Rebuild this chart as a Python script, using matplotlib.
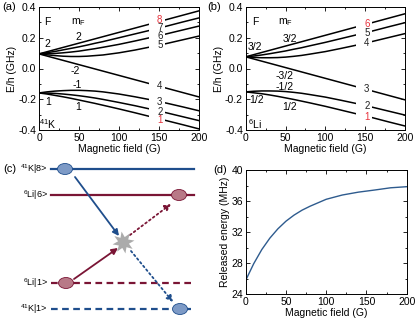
import numpy as np
import matplotlib
matplotlib.use('Agg')
import matplotlib.pyplot as plt
from matplotlib.patches import Ellipse, Rectangle
from matplotlib.ticker import MultipleLocator

plt.rcParams['font.family'] = ['Liberation Sans', 'DejaVu Sans']
plt.rcParams['font.size'] = 7.5
plt.rcParams['mathtext.default'] = 'regular'
plt.rcParams['axes.unicode_minus'] = False

# magnetic field samples (G)
field = [0, 10, 20, 30, 40, 50, 60, 70, 80, 100, 120, 140, 160, 180, 200]

# 41K hyperfine levels (GHz), states 1..8
k_levels = [
    [-0.159, -0.166, -0.175, -0.184, -0.194, -0.205, -0.216, -0.227, -0.239, -0.263, -0.288, -0.314, -0.340, -0.366, -0.393],
    [-0.159, -0.160, -0.162, -0.166, -0.171, -0.177, -0.184, -0.192, -0.201, -0.221, -0.242, -0.265, -0.289, -0.314, -0.339],
    [-0.159, -0.152, -0.147, -0.144, -0.142, -0.142, -0.144, -0.147, -0.152, -0.166, -0.184, -0.204, -0.226, -0.250, -0.275],
    [0.095, 0.081, 0.067, 0.053, 0.039, 0.025, 0.011, -0.003, -0.017, -0.045, -0.073, -0.101, -0.129, -0.157, -0.185],
    [0.095, 0.089, 0.084, 0.080, 0.078, 0.078, 0.080, 0.084, 0.088, 0.102, 0.120, 0.141, 0.163, 0.187, 0.211],
    [0.095, 0.096, 0.098, 0.102, 0.107, 0.113, 0.121, 0.129, 0.138, 0.157, 0.179, 0.202, 0.226, 0.251, 0.276],
    [0.095, 0.103, 0.111, 0.121, 0.131, 0.141, 0.152, 0.164, 0.175, 0.200, 0.225, 0.250, 0.276, 0.303, 0.329],
    [0.095, 0.109, 0.123, 0.137, 0.151, 0.165, 0.179, 0.193, 0.207, 0.235, 0.263, 0.291, 0.319, 0.347, 0.375],
]
k_label_y = [-0.336, -0.283, -0.220, -0.117, 0.156, 0.213, 0.264, 0.316]

# 6Li hyperfine levels (GHz), states 1..6
li_levels = [
    [-0.152, -0.158, -0.164, -0.172, -0.181, -0.191, -0.201, -0.212, -0.223, -0.246, -0.271, -0.296, -0.321, -0.348, -0.374],
    [-0.152, -0.148, -0.146, -0.146, -0.147, -0.150, -0.155, -0.161, -0.169, -0.186, -0.207, -0.229, -0.253, -0.278, -0.303],
    [0.076, 0.062, 0.048, 0.034, 0.020, 0.006, -0.008, -0.022, -0.036, -0.064, -0.092, -0.120, -0.148, -0.176, -0.204],
    [0.076, 0.072, 0.070, 0.070, 0.071, 0.074, 0.079, 0.085, 0.093, 0.110, 0.131, 0.153, 0.177, 0.202, 0.227],
    [0.076, 0.081, 0.088, 0.096, 0.105, 0.114, 0.125, 0.135, 0.147, 0.170, 0.195, 0.220, 0.245, 0.272, 0.298],
    [0.076, 0.090, 0.104, 0.118, 0.132, 0.146, 0.160, 0.174, 0.188, 0.216, 0.244, 0.272, 0.300, 0.328, 0.356],
]
li_label_y = [-0.316, -0.245, -0.134, 0.163, 0.234, 0.292]

# released energy (MHz)
released = [25.8, 27.95, 29.76, 31.23, 32.43, 33.41, 34.19, 34.83, 35.34, 36.23, 36.78, 37.15, 37.42, 37.71, 37.85]

# diagram (c)
level_names = ['$^{41}$K|8>', '$^{6}$Li|6>', '$^{6}$Li|1>', '$^{41}$K|1>']
level_y = [169, 195, 283, 309]
atom_x = [65, 179, 66, 180]
blue = '#1F4E8C'
red = '#7A1535'
level_colors = [blue, red, red, blue]
level_styles = ['-', '-', '--', '--']
atom_fill = ['#7D9AC6', '#B87987', '#B87987', '#7D9AC6']


def style_axes(ax):
    ax.tick_params(direction='in', which='both', top=True, right=True, width=0.6)
    ax.tick_params(which='major', length=3, pad=2)
    ax.tick_params(which='minor', length=1.5)
    for s in ax.spines.values():
        s.set_linewidth(0.7)


def state_labels(ax, xpos, ys, red_ids):
    # blank the lines behind the labels, then write the numbers
    for y in ys:
        ax.add_patch(Rectangle((xpos - 14, y - 0.026), 21, 0.052, facecolor='white',
                               edgecolor='none', zorder=3))
    for i, y in enumerate(ys):
        ax.text(xpos, y, str(i + 1), ha='center', va='center', fontsize=7,
                color='#E8323C' if i in red_ids else '#222222', zorder=5)


fig = plt.figure(figsize=(4.15, 3.2), dpi=100)

# (a) 41K
ax_a = fig.add_axes([39/415, 1 - 130/320, 160/415, 123/320])
for lv in k_levels:
    ax_a.plot(field, lv, color='black', lw=1.1, zorder=2)
state_labels(ax_a, 151, k_label_y, (0, 7))
ax_a.text(11, 0.30, 'F', ha='center', va='center')
ax_a.text(49, 0.30, '$m_F$', ha='center', va='center')
ax_a.text(11, 0.16, '2', ha='center', va='center')
ax_a.text(49, 0.207, '2', ha='center', va='center')
ax_a.text(45, -0.016, '-2', ha='center', va='center')
ax_a.text(48, -0.107, '-1', ha='center', va='center')
ax_a.text(11, -0.216, '1', ha='center', va='center')
ax_a.text(49, -0.25, '1', ha='center', va='center')
ax_a.text(11, -0.36, '$^{41}$K', ha='center', va='center')
ax_a.set_xlim(0, 200)
ax_a.set_ylim(-0.4, 0.4)
ax_a.set_yticks([-0.4, -0.2, 0.0, 0.2, 0.4])
ax_a.set_yticklabels(['-0.4', '-0.2', '0.0', '0.2', '0.4'])
ax_a.xaxis.set_minor_locator(MultipleLocator(25))
ax_a.yaxis.set_minor_locator(MultipleLocator(0.1))
ax_a.set_xlabel('Magnetic field (G)', labelpad=1)
ax_a.set_ylabel('E/h (GHz)', labelpad=1)
style_axes(ax_a)

# (b) 6Li
ax_b = fig.add_axes([245.7/415, 1 - 130/320, 159.3/415, 123/320])
for lv in li_levels:
    ax_b.plot(field, lv, color='black', lw=1.1, zorder=2)
state_labels(ax_b, 152, li_label_y, (0, 5))
ax_b.text(12, 0.30, 'F', ha='center', va='center')
ax_b.text(50, 0.30, '$m_F$', ha='center', va='center')
ax_b.text(12, 0.142, '3/2', ha='center', va='center')
ax_b.text(55, 0.19, '3/2', ha='center', va='center')
ax_b.text(49, -0.049, '-3/2', ha='center', va='center')
ax_b.text(49, -0.122, '-1/2', ha='center', va='center')
ax_b.text(13, -0.205, '1/2', ha='center', va='center')
ax_b.text(55, -0.25, '1/2', ha='center', va='center')
ax_b.text(12, -0.36, '$^{6}$Li', ha='center', va='center')
ax_b.set_xlim(0, 200)
ax_b.set_ylim(-0.4, 0.4)
ax_b.set_yticks([-0.4, -0.2, 0.0, 0.2, 0.4])
ax_b.set_yticklabels(['-0.4', '-0.2', '0.0', '0.2', '0.4'])
ax_b.xaxis.set_minor_locator(MultipleLocator(25))
ax_b.yaxis.set_minor_locator(MultipleLocator(0.1))
ax_b.set_xlabel('Magnetic field (G)', labelpad=1)
ax_b.set_ylabel('E/h (GHz)', labelpad=1)
style_axes(ax_b)

# (d) released energy
ax_d = fig.add_axes([245.7/415, 1 - 294.3/320, 161/415, 124.3/320])
ax_d.plot(field, released, color='#2E5B8E', lw=1.0)
ax_d.set_xlim(0, 200)
ax_d.set_ylim(24, 40)
ax_d.set_yticks([24, 28, 32, 36, 40])
ax_d.xaxis.set_minor_locator(MultipleLocator(25))
ax_d.yaxis.set_minor_locator(MultipleLocator(2))
ax_d.set_xlabel('Magnetic field (G)', labelpad=1)
ax_d.set_ylabel('Released energy (MHz)', labelpad=1)
style_axes(ax_d)

# (c) collision diagram, drawn in pixel units
ax_c = fig.add_axes([0, 0, 205/415, 165/320])
ax_c.set_xlim(0, 205)
ax_c.set_ylim(320, 155)
ax_c.axis('off')
for i in range(4):
    ax_c.plot([51, 194], [level_y[i], level_y[i]], color=level_colors[i], lw=1.6,
              linestyle=level_styles[i], dashes=(3, 2) if level_styles[i] == '--' else (None, None))
    ax_c.text(48, level_y[i], level_names[i], ha='right', va='center', fontsize=6.5)
    ax_c.add_patch(Ellipse((atom_x[i], level_y[i]), 15, 11, facecolor=atom_fill[i],
                           edgecolor=level_colors[i], lw=0.6, zorder=3))

arr = dict(arrowstyle='-|>', lw=1.3, mutation_scale=9, shrinkA=0, shrinkB=0)
ax_c.annotate('', xy=(119, 236), xytext=(75, 177), arrowprops=dict(arr, color=blue))
ax_c.annotate('', xy=(118, 248), xytext=(74, 279), arrowprops=dict(arr, color=red))
ax_c.annotate('', xy=(171, 204), xytext=(130, 235), arrowprops=dict(arr, color=red, linestyle=':'))
ax_c.annotate('', xy=(173, 302), xytext=(131, 251), arrowprops=dict(arr, color=blue, linestyle=':'))
ax_c.plot([123], [242], marker=(8, 1, 10), markersize=16, color='#ABABAB', markeredgewidth=0, zorder=4)

fig.text(2/415, 1 - 7/320, '(a)', ha='left', va='center', fontsize=8)
fig.text(207/415, 1 - 7/320, '(b)', ha='left', va='center', fontsize=8)
fig.text(3/415, 1 - 169/320, '(c)', ha='left', va='center', fontsize=8)
fig.text(213/415, 1 - 170/320, '(d)', ha='left', va='center', fontsize=8)

fig.savefig('out.png', dpi=100)
